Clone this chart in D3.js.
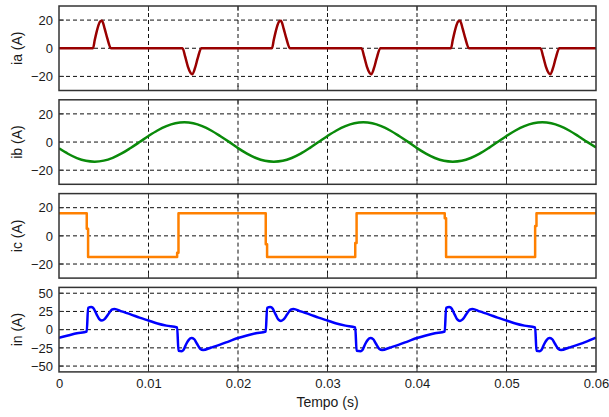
<!DOCTYPE html>
<html>
<head>
<meta charset="utf-8">
<script src="https://cdn.jsdelivr.net/npm/d3@7"></script>
<style>
  html, body { margin: 0; padding: 0; background: #ffffff; }
  svg { display: block; font-family: "Liberation Sans", Arial, sans-serif; }
</style>
</head>
<body>
<svg id="chart" width="609" height="417"></svg>
<script>
// ---- Time axis ----
const xTickValues = [0, 0.01, 0.02, 0.03, 0.04, 0.05, 0.06];
const xTickLabels = ["0", "0.01", "0.02", "0.03", "0.04", "0.05", "0.06"];

// ---- Y tick values per panel ----
const phaseTicks = [-20, 0, 20];
const neutralTicks = [-50, -25, 0, 25, 50];

// ---- ia: phase A current (pulses) ----
const iaTime = [
  0,
  0.0038, 0.0040, 0.0043, 0.0046, 0.0048, 0.0051, 0.0054, 0.0058,
  0.0138, 0.0141, 0.0144, 0.0147, 0.0149, 0.0152, 0.0155, 0.0159,
  0.0238, 0.0240, 0.0243, 0.0246, 0.0248, 0.0251, 0.0254, 0.0258,
  0.0338, 0.0341, 0.0344, 0.0347, 0.0349, 0.0352, 0.0355, 0.0359,
  0.0438, 0.0440, 0.0443, 0.0446, 0.0448, 0.0451, 0.0454, 0.0458,
  0.0538, 0.0541, 0.0544, 0.0547, 0.0549, 0.0552, 0.0555, 0.0559,
  0.06
];
const iaValue = [
  0,
  0, 6, 14, 19, 19.5, 14, 7, 0,
  0, -6, -13, -17.5, -18.5, -14, -7, 0,
  0, 6, 14, 19, 19.5, 14, 7, 0,
  0, -6, -13, -17.5, -18.5, -14, -7, 0,
  0, 6, 14, 19, 19.5, 14, 7, 0,
  0, -6, -13, -17.5, -18.5, -14, -7, 0,
  0
];

// ---- ib: phase B current, sampled every 1 ms ----
const ibStep = 0.001;
const ibValue = [
  -4.5, -8.3, -11.4, -13.3, -13.9, -13.2, -11.2, -8.1, -4.2, 0.0,
   4.3,  8.2,  11.3,  13.3,  14.0,  13.3,  11.3,  8.2,  4.3, 0.1,
  -4.3, -8.2, -11.3, -13.3, -13.9, -13.3, -11.3, -8.2, -4.3, 0.0,
   4.3,  8.2,  11.3,  13.3,  14.0,  13.3,  11.3,  8.2,  4.3, 0.1,
  -4.3, -8.2, -11.3, -13.3, -13.9, -13.3, -11.3, -8.2, -4.3, 0.0,
   4.3,  8.2,  11.3,  13.3,  14.0,  13.3,  11.3,  8.2,  4.3, 0.1,
  -3.8
];

// ---- ic: phase C current (square wave with small commutation steps) ----
const icTime = [
  0, 0.0031, 0.0031, 0.00325, 0.00325,
  0.0132, 0.0132, 0.01335, 0.01335,
  0.0231, 0.0231, 0.02325, 0.02325,
  0.0331, 0.0331, 0.03325, 0.03325,
  0.0431, 0.0431, 0.04325, 0.04325,
  0.0532, 0.0532, 0.05335, 0.05335,
  0.06
];
const icValue = [
  16, 16, 5, 5, -15,
  -15, -12, -12, 16,
  16, -6, -6, -15,
  -15, -5, -5, 16,
  16, 12.5, 12.5, -15,
  -15, 7, 7, 16,
  16
];

// ---- in: neutral current ----
const inTime = [
  0.0000, 0.0010, 0.0020, 0.0031, 0.00325, 0.0036, 0.0038, 0.0042, 0.0045, 0.0048,
  0.0051, 0.0055, 0.0059, 0.0062, 0.0070, 0.0080, 0.0090, 0.0100, 0.0110, 0.0120,
  0.0132, 0.01335, 0.0137, 0.0139, 0.0142, 0.0145, 0.0148, 0.0151, 0.0154, 0.0158,
  0.0161, 0.0170, 0.0180, 0.0190,
  0.0200, 0.0210, 0.0220, 0.0231, 0.02325, 0.0236, 0.0238, 0.0242, 0.0245, 0.0248,
  0.0251, 0.0255, 0.0259, 0.0262, 0.0270, 0.0280, 0.0290, 0.0300, 0.0310, 0.0320,
  0.0331, 0.03325, 0.0337, 0.0339, 0.0342, 0.0345, 0.0348, 0.0351, 0.0354, 0.0358,
  0.0361, 0.0370, 0.0380, 0.0390,
  0.0400, 0.0410, 0.0420, 0.0431, 0.04325, 0.0436, 0.0438, 0.0442, 0.0445, 0.0448,
  0.0451, 0.0455, 0.0459, 0.0462, 0.0470, 0.0480, 0.0490, 0.0500, 0.0510, 0.0520,
  0.0532, 0.05335, 0.0537, 0.0539, 0.0542, 0.0545, 0.0548, 0.0551, 0.0554, 0.0558,
  0.0561, 0.0570, 0.0580, 0.0590, 0.0600
];
const inValue = [
  -11, -8, -5, -2.5, 30, 31, 30, 21, 14.5, 12.5,
  14.5, 21, 27.5, 28.5, 25, 21, 16.5, 12.5, 8.5, 5.5,
  3, -29, -29.5, -28, -20, -14, -11.5, -13, -19, -26.5,
  -28, -24.5, -20.5, -16,
  -11.5, -8, -5, -2.5, 30, 31, 30, 21, 14, 12,
  14, 21, 27.5, 28.5, 25, 21, 16.5, 12.5, 8.5, 5.5,
  3, -29, -29.5, -28, -20, -14, -11.5, -13, -19, -26.5,
  -28, -24.5, -20.5, -16,
  -11.5, -8, -5, -2.5, 30, 31, 30, 21, 14, 12,
  14, 21, 27.5, 28.5, 25, 21, 16.5, 12.5, 8.5, 5.5,
  3, -29, -29.5, -28, -20, -14, -11.5, -13, -19, -26.5,
  -28, -24.5, -20.5, -16, -11
];

// ---- Panel definitions ----
const panels = [
  { label: "ia (A)", time: iaTime, value: iaValue, domain: [-30, 30], ticks: phaseTicks, color: "#990000", curve: d3.curveMonotoneX },
  { label: "ib (A)", time: ibValue.map((_, i) => i * ibStep), value: ibValue, domain: [-30, 30], ticks: phaseTicks, color: "#0a8a0a", curve: d3.curveCatmullRom },
  { label: "ic (A)", time: icTime, value: icValue, domain: [-30, 30], ticks: phaseTicks, color: "#ff8000", curve: d3.curveLinear },
  { label: "in (A)", time: inTime, value: inValue, domain: [-58, 58], ticks: neutralTicks, color: "#0000ff", curve: d3.curveMonotoneX }
];

// ---- Layout ----
const left = 59, right = 596;
const firstTop = 6, panelStep = 93.8, panelHeight = 84.5;
const tickLen = 5;
const frameColor = "#333333";
const textColor = "#1a1a1a";

const svg = d3.select("#chart");
const x = d3.scaleLinear().domain([0, 0.06]).range([left, right]);

panels.forEach((p, i) => {
  const top = firstTop + i * panelStep;
  const bottom = top + panelHeight;
  const y = d3.scaleLinear().domain(p.domain).range([bottom, top]);
  const g = svg.append("g");

  const clipId = "clip" + i;
  svg.append("clipPath").attr("id", clipId)
    .append("rect").attr("x", left).attr("y", top).attr("width", right - left).attr("height", panelHeight);

  // dashed grid
  g.append("g").selectAll("line")
    .data(xTickValues.slice(1, -1)).join("line")
    .attr("x1", d => x(d)).attr("x2", d => x(d))
    .attr("y1", top).attr("y2", bottom)
    .attr("stroke", "#111").attr("stroke-width", 1).attr("stroke-dasharray", "4,3");
  g.append("g").selectAll("line")
    .data(p.ticks).join("line")
    .attr("x1", left).attr("x2", right)
    .attr("y1", d => y(d)).attr("y2", d => y(d))
    .attr("stroke", "#111").attr("stroke-width", 1).attr("stroke-dasharray", "4,3");

  // inward tick marks
  const tk = g.append("g").attr("stroke", frameColor).attr("stroke-width", 1);
  xTickValues.slice(1, -1).forEach(d => {
    tk.append("line").attr("x1", x(d)).attr("x2", x(d)).attr("y1", top).attr("y2", top + tickLen);
    tk.append("line").attr("x1", x(d)).attr("x2", x(d)).attr("y1", bottom).attr("y2", bottom - tickLen);
  });
  p.ticks.forEach(d => {
    tk.append("line").attr("x1", left).attr("x2", left + tickLen).attr("y1", y(d)).attr("y2", y(d));
    tk.append("line").attr("x1", right).attr("x2", right - tickLen).attr("y1", y(d)).attr("y2", y(d));
  });

  // data line
  const pts = p.time.map((t, k) => [t, p.value[k]]);
  const line = d3.line().x(d => x(d[0])).y(d => y(d[1])).curve(p.curve);
  g.append("path")
    .attr("clip-path", `url(#${clipId})`)
    .attr("d", line(pts))
    .attr("fill", "none")
    .attr("stroke", p.color)
    .attr("stroke-width", 2.5)
    .attr("stroke-linejoin", "round");

  // frame
  g.append("rect")
    .attr("x", left).attr("y", top).attr("width", right - left).attr("height", panelHeight)
    .attr("fill", "none").attr("stroke", frameColor).attr("stroke-width", 1.5);

  // y axis labels
  const ay = g.append("g").attr("transform", `translate(${left},0)`)
    .call(d3.axisLeft(y).tickValues(p.ticks).tickSize(0).tickPadding(6).tickFormat(d3.format("d")));
  ay.select(".domain").remove();
  ay.selectAll("text").attr("font-size", 13).attr("font-family", "Liberation Sans, Arial, sans-serif").attr("fill", textColor);

  g.append("text")
    .attr("transform", `translate(22,${(top + bottom) / 2}) rotate(-90)`)
    .attr("text-anchor", "middle")
    .attr("font-size", 14)
    .attr("fill", textColor)
    .text(p.label);

  if (i === panels.length - 1) {
    const ax = g.append("g").attr("transform", `translate(0,${bottom})`)
      .call(d3.axisBottom(x).tickValues(xTickValues).tickSize(0).tickPadding(7)
        .tickFormat((d, k) => xTickLabels[k]));
    ax.select(".domain").remove();
    ax.selectAll("text").attr("font-size", 13).attr("font-family", "Liberation Sans, Arial, sans-serif").attr("fill", textColor);

    svg.append("text")
      .attr("x", (left + right) / 2)
      .attr("y", 407)
      .attr("text-anchor", "middle")
      .attr("font-size", 14)
      .attr("fill", textColor)
      .text("Tempo (s)");
  }
});
</script>
</body>
</html>
